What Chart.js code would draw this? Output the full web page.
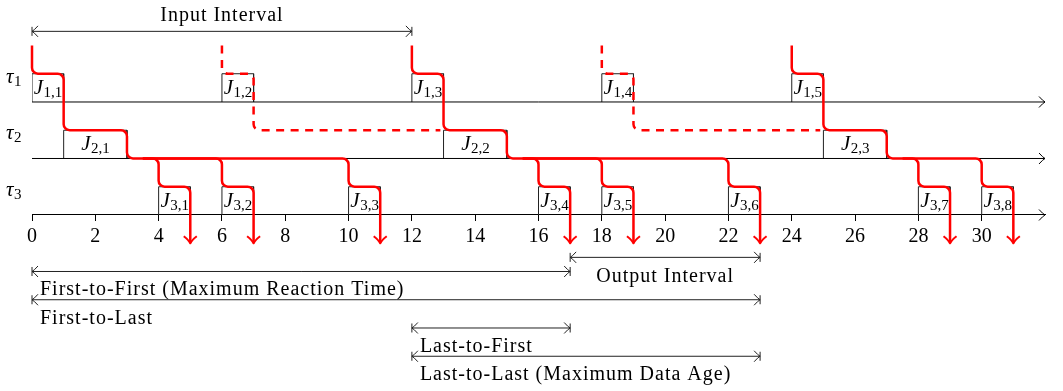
<!DOCTYPE html>
<html>
<head>
<meta charset="utf-8">
<script src="https://cdn.jsdelivr.net/npm/chart.js@4.4.1/dist/chart.umd.min.js"></script>
<style>
  html, body { margin: 0; padding: 0; background: #fff; }
  #wrap { width: 1063px; height: 391px; position: relative; }
</style>
</head>
<body>
<div id="wrap"><canvas id="timeline"></canvas></div>
<script>
// time axis
var X_MAX = 32;
var tickValues = [0, 2, 4, 6, 8, 10, 12, 14, 16, 18, 20, 22, 24, 26, 28, 30];

// tasks: lane level, job release times, execution length
var taskIds = [1, 2, 3];
var taskLevels = [3, 2, 1];
var taskReleases = [
  [0, 6, 12, 18, 24],
  [1, 13, 25],
  [4, 6, 10, 16, 18, 22, 28, 30]
];
var taskExec = [1, 2, 1];
var boxHeight = 0.5;

// cause-effect chains (time, lane level)
var solidChains = [
  [[0, 4], [0, 3.5], [1, 3.5], [1, 2.5], [3, 2.5], [3, 2], [10, 2], [10, 1.5], [11, 1.5], [11, 0.5]],
  [[3.5, 2], [4, 2], [4, 1.5], [5, 1.5], [5, 0.5]],
  [[3.5, 2], [6, 2], [6, 1.5], [7, 1.5], [7, 0.5]],
  [[12, 4], [12, 3.5], [13, 3.5], [13, 2.5], [15, 2.5], [15, 2], [22, 2], [22, 1.5], [23, 1.5], [23, 0.5]],
  [[15.5, 2], [16, 2], [16, 1.5], [17, 1.5], [17, 0.5]],
  [[15.5, 2], [18, 2], [18, 1.5], [19, 1.5], [19, 0.5]],
  [[24, 4], [24, 3.5], [25, 3.5], [25, 2.5], [27, 2.5], [27, 2], [30, 2], [30, 1.5], [31, 1.5], [31, 0.5]],
  [[27.5, 2], [28, 2], [28, 1.5], [29, 1.5], [29, 0.5]]
];
var dashedChains = [
  [[6, 4], [6, 3.5], [7, 3.5], [7, 2.5], [12.9, 2.5]],
  [[18, 4], [18, 3.5], [19, 3.5], [19, 2.5], [24.9, 2.5]]
];

// intervals
var intervalNames = ['Input Interval', 'Output Interval', 'First-to-First (Maximum Reaction Time)',
  'First-to-Last', 'Last-to-First', 'Last-to-Last (Maximum Data Age)'];
var intervalStart = [0, 17, 0, 0, 12, 12];
var intervalEnd = [12, 23, 17, 23, 17, 23];
var intervalLevel = [4.25, 0.25, 0, -0.5, -1, -1.5];

// label placement (style only)
var intervalPlace = ['above', 'center', 'left', 'left', 'left', 'left'];

var FONT = '"Liberation Serif", "DejaVu Serif", serif';
var RED = '#ff0000';

var datasets = [];
// lane base lines for tau1, tau2 (tau3 is the time axis)
for (var i = 0; i < 2; i++) {
  datasets.push({
    kind: 'lane',
    data: [{ x: 0, y: taskLevels[i] }, { x: X_MAX, y: taskLevels[i] }],
    borderColor: '#000', borderWidth: 1
  });
}
// job boxes
taskReleases.forEach(function (rel, t) {
  var pts = [];
  rel.forEach(function (r) {
    var lv = taskLevels[t], e = r + taskExec[t];
    pts.push({ x: r, y: lv }, { x: r, y: lv + boxHeight }, { x: e, y: lv + boxHeight }, { x: e, y: lv }, { x: e, y: null });
  });
  datasets.push({ kind: 'box', data: pts, borderColor: '#222', borderWidth: 1, spanGaps: false });
});
// chains (stroked by the plugin with rounded corners)
solidChains.forEach(function (c) {
  datasets.push({ kind: 'chain', dashed: false, data: c.map(function (p) { return { x: p[0], y: p[1] }; }), showLine: false });
});
dashedChains.forEach(function (c) {
  datasets.push({ kind: 'chain', dashed: true, data: c.map(function (p) { return { x: p[0], y: p[1] }; }), showLine: false });
});
// interval brackets
intervalNames.forEach(function (n, k) {
  datasets.push({
    kind: 'interval', idx: k,
    data: [{ x: intervalStart[k], y: intervalLevel[k] }, { x: intervalEnd[k], y: intervalLevel[k] }],
    borderColor: '#222', borderWidth: 1
  });
});

function chevron(ctx, x, y) {
  ctx.beginPath();
  ctx.moveTo(x - 6, y - 5.5);
  ctx.quadraticCurveTo(x - 2, y - 1, x, y);
  ctx.quadraticCurveTo(x - 2, y + 1, x - 6, y + 5.5);
  ctx.stroke();
}

function subLabel(ctx, main, sub, x, y, center) {
  ctx.font = 'italic 21px ' + FONT;
  var w1 = ctx.measureText(main).width;
  ctx.font = '15px ' + FONT;
  var w2 = ctx.measureText(sub).width;
  var x0 = center ? x - (w1 + w2) / 2 : x;
  ctx.font = 'italic 21px ' + FONT;
  ctx.fillText(main, x0, y);
  ctx.font = '15px ' + FONT;
  ctx.fillText(sub, x0 + w1 + 0.5, y + 3);
}

var timelineDecor = {
  id: 'timelineDecor',
  afterDatasetsDraw: function (chart) {
    var ctx = chart.ctx, xs = chart.scales.x, ys = chart.scales.y;
    ctx.save();
    ctx.textAlign = 'left';
    ctx.textBaseline = 'alphabetic';
    ctx.fillStyle = '#000';

    // job labels
    taskReleases.forEach(function (rel, t) {
      rel.forEach(function (r, j) {
        var cx = xs.getPixelForValue(r + taskExec[t] / 2);
        var by = ys.getPixelForValue(taskLevels[t]);
        subLabel(ctx, 'J', taskIds[t] + ',' + (j + 1), cx, by - 8, true);
      });
      // task names
      var ty = ys.getPixelForValue(taskLevels[t]);
      subLabel(ctx, 'τ', String(taskIds[t]), xs.getPixelForValue(0) - 26, ty - 19, false);
    });

    chart.data.datasets.forEach(function (ds, i) {
      var pts = chart.getDatasetMeta(i).data;
      if (ds.kind === 'lane') {
        ctx.strokeStyle = '#000'; ctx.lineWidth = 1; ctx.setLineDash([]);
        var p = pts[pts.length - 1];
        chevron(ctx, p.x, p.y);
      } else if (ds.kind === 'chain') {
        ctx.strokeStyle = RED; ctx.lineWidth = 2.5;
        ctx.lineJoin = 'round'; ctx.lineCap = 'butt';
        ctx.setLineDash(ds.dashed ? [8, 6.5] : []);
        ctx.beginPath();
        ctx.moveTo(pts[0].x, pts[0].y);
        for (var k = 1; k < pts.length - 1; k++) {
          ctx.arcTo(pts[k].x, pts[k].y, pts[k + 1].x, pts[k + 1].y, 6);
        }
        var last = pts[pts.length - 1];
        ctx.lineTo(last.x, last.y);
        ctx.stroke();
        if (!ds.dashed) {
          ctx.setLineDash([]);
          ctx.lineWidth = 2;
          ctx.beginPath();
          ctx.moveTo(last.x - 6.5, last.y - 7);
          ctx.quadraticCurveTo(last.x - 1.5, last.y - 3, last.x, last.y);
          ctx.quadraticCurveTo(last.x + 1.5, last.y - 3, last.x + 6.5, last.y - 7);
          ctx.stroke();
        }
      } else if (ds.kind === 'interval') {
        ctx.strokeStyle = '#222'; ctx.lineWidth = 1; ctx.setLineDash([]);
        var a = pts[0], b = pts[1], y = a.y;
        ctx.beginPath();
        ctx.moveTo(a.x, y - 4.5); ctx.lineTo(a.x, y + 4.5);
        ctx.moveTo(b.x, y - 4.5); ctx.lineTo(b.x, y + 4.5);
        ctx.stroke();
        chevron(ctx, b.x, y);
        ctx.save();
        ctx.translate(a.x, y); ctx.scale(-1, 1);
        chevron(ctx, 0, 0);
        ctx.restore();

        var place = intervalPlace[ds.idx];
        ctx.font = '20px ' + FONT;
        ctx.letterSpacing = '1px';
        if (place === 'above') {
          ctx.textAlign = 'center';
          ctx.fillText(intervalNames[ds.idx], (a.x + b.x) / 2, y - 10);
        } else if (place === 'center') {
          ctx.textAlign = 'center';
          ctx.fillText(intervalNames[ds.idx], (a.x + b.x) / 2, y + 25);
        } else {
          ctx.textAlign = 'left';
          ctx.fillText(intervalNames[ds.idx], a.x + 8, y + 24);
        }
        ctx.letterSpacing = '0px';
        ctx.textAlign = 'left';
      }
    });

    // arrow tip of the time axis
    ctx.strokeStyle = '#000'; ctx.lineWidth = 1; ctx.setLineDash([]);
    chevron(ctx, xs.right, ys.getPixelForValue(taskLevels[2]));
    ctx.restore();
  }
};

Chart.defaults.font.family = FONT;

new Chart(document.getElementById('timeline').getContext('2d'), {
  type: 'line',
  data: { datasets: datasets },
  options: {
    responsive: true,
    maintainAspectRatio: false,
    animation: false,
    events: [],
    layout: { padding: { left: 32, right: 18, top: 0, bottom: 0 } },
    elements: {
      point: { radius: 0, hoverRadius: 0 },
      line: { tension: 0, fill: false }
    },
    plugins: { legend: { display: false }, tooltip: { enabled: false } },
    scales: {
      x: {
        type: 'linear',
        min: 0,
        max: X_MAX,
        position: { y: taskLevels[2] },
        afterBuildTicks: function (scale) {
          scale.ticks = tickValues.map(function (v) { return { value: v }; });
        },
        ticks: { color: '#000', font: { size: 20 }, padding: 4, autoSkip: false, maxRotation: 0 },
        grid: { drawOnChartArea: false, drawTicks: true, tickLength: 6, color: '#000' },
        border: { display: true, color: '#000', width: 1 }
      },
      y: {
        type: 'linear',
        min: -2.115,
        max: 4.805,
        display: false
      }
    }
  },
  plugins: [timelineDecor]
});
</script>
</body>
</html>
